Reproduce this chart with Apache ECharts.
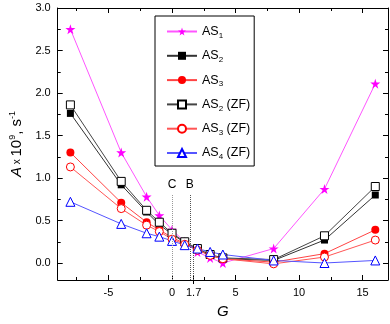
<!DOCTYPE html>
<html>
<head>
<meta charset="utf-8">
<script src="https://cdn.jsdelivr.net/npm/echarts@6/dist/echarts.min.js"></script>
<style>
    html, body {margin: 0; padding: 0; background: #fff;}
    #main {width: 390px; height: 324px;}
</style>
</head>
<body>
<div id="main"></div>
<script>
// G 值（横轴）
var gValues = [-8, -4, -2, -1, 0, 1, 2, 3, 4, 8, 12, 16];
// 各序列的 A 值 (x10^9 s^-1)
var as1 = [2.75, 1.30, 0.78, 0.56, 0.39, 0.25, 0.13, 0.06, 0.00, 0.17, 0.87, 2.11];
var as2 = [1.76, 0.92, 0.60, 0.45, 0.34, 0.24, 0.16, 0.09, 0.05, 0.03, 0.27, 0.80];
var as3 = [1.30, 0.71, 0.48, 0.39, 0.30, 0.23, 0.16, 0.09, 0.05, 0.01, 0.11, 0.39];
var as2zf = [1.86, 0.96, 0.62, 0.48, 0.35, 0.25, 0.17, 0.10, 0.06, 0.04, 0.32, 0.90];
var as3zf = [1.13, 0.64, 0.445, 0.37, 0.28, 0.22, 0.15, 0.09, 0.05, -0.01, 0.07, 0.27];
var as4zf = [0.72, 0.46, 0.35, 0.31, 0.26, 0.21, 0.17, 0.13, 0.10, 0.03, 0.00, 0.03];
var seriesNames = ['AS1', 'AS2', 'AS3', 'AS2 (ZF)', 'AS3 (ZF)', 'AS4 (ZF)'];

// 刻度
var xMajorTicks = [-5, 0, 1.7, 5, 10, 15];
var xMinorTicks = [-7.5, -2.5, 2.5, 7.5, 12.5];
var yMajorTicks = [0, 0.5, 1, 1.5, 2, 2.5, 3];
var yMinorTicks = [0.25, 0.75, 1.25, 1.75, 2.25, 2.75];

// 参考线 C / B
var guideLines = [
    {label: 'C', x: 0, from: -0.2, to: 0.81, color: '#999'},
    {label: 'B', x: 1.4, from: -0.2, to: 0.81, color: '#555'},
    {label: '', x: 1.7, from: -0.2, to: 0.12, color: '#555'}
];

var xMin = -9, xMax = 17, yMin = -0.2, yMax = 3.0;
var starPath = 'path://M50,0 L61,35 L98,35 L68,57 L79,91 L50,70 L21,91 L32,57 L2,35 L39,35 Z';
var font = 'Liberation Sans, Arial, sans-serif';

function pairs(ys) {
    var out = [];
    for (var i = 0; i < gValues.length; i++) {
        out.push([gValues[i], ys[i]]);
    }
    return out;
}

function xAxisDef(pos, ticks, len, showLabel, showLine, inside) {
    return {
        type: 'value', position: pos, min: xMin, max: xMax,
        splitLine: {show: false},
        axisLine: {show: showLine, onZero: false, lineStyle: {color: '#000', width: 1}},
        axisTick: {show: true, inside: inside, length: len, customValues: ticks, lineStyle: {color: '#000'}},
        axisLabel: {show: showLabel, customValues: ticks, color: '#000', fontSize: 11, fontFamily: font, margin: 7,
            formatter: function (v) { return v < 0 ? '-' + Math.abs(v) : String(v); }}
    };
}

function yAxisDef(pos, ticks, len, showLabel, showLine) {
    return {
        type: 'value', position: pos, min: yMin, max: yMax,
        splitLine: {show: false},
        axisLine: {show: showLine, onZero: false, lineStyle: {color: '#000', width: 1}},
        axisTick: {show: true, inside: true, length: len, customValues: ticks, lineStyle: {color: '#000'}},
        axisLabel: {show: showLabel, customValues: ticks, color: '#000', fontSize: 11, fontFamily: font, margin: 7,
            formatter: function (v) { return v.toFixed(1); }}
    };
}

var xAxes = [
    xAxisDef('bottom', xMajorTicks, 5, true, true, true),
    xAxisDef('bottom', xMinorTicks, 3, false, false, true),
    xAxisDef('top', [-5, 0, 5, 10, 15], 5, false, true, true),
    xAxisDef('top', xMinorTicks, 3, false, false, true),
    xAxisDef('bottom', [1.7], 4, false, false, false)
];
xAxes[0].name = 'G';
xAxes[0].nameLocation = 'middle';
xAxes[0].nameGap = 24;
xAxes[0].nameTextStyle = {fontSize: 15, fontStyle: 'italic', fontFamily: font, color: '#000'};

var yAxes = [
    yAxisDef('left', yMajorTicks, 5, true, true),
    yAxisDef('left', yMinorTicks, 3, false, false),
    yAxisDef('right', yMajorTicks, 5, false, true),
    yAxisDef('right', yMinorTicks, 3, false, false)
];
yAxes[0].name = '{i|A}{x| x }{n|10}{sup|9}{n|, s}{sup|-1}';
yAxes[0].nameLocation = 'middle';
yAxes[0].nameGap = 29;
yAxes[0].nameTextStyle = {
    color: '#000', fontFamily: font,
    rich: {
        i: {fontSize: 15, fontStyle: 'italic', fontFamily: font, color: '#000'},
        x: {fontSize: 10, fontFamily: font, color: '#000'},
        n: {fontSize: 15, fontFamily: font, color: '#000'},
        sup: {fontSize: 9, fontFamily: font, color: '#000', verticalAlign: 'top', padding: [0, 0, 9, 0]}
    }
};

function dataSeries(name, ys, color, symbol, size, hollow, lineColor) {
    return {
        name: name, type: 'line', data: pairs(ys),
        xAxisIndex: 0, yAxisIndex: 0,
        symbol: symbol, symbolSize: size,
        lineStyle: {color: lineColor, width: 1},
        itemStyle: hollow ? {color: '#fff', borderColor: color, borderWidth: 1} : {color: color, borderColor: color, borderWidth: 0},
        color: color,
        z: 3
    };
}

var series = [];
for (var k = 0; k < guideLines.length; k++) {
    var gl = guideLines[k];
    series.push({
        type: 'line', data: [], silent: true, z: 1,
        markLine: {
            silent: true, symbol: ['none', 'none'], animation: false,
            lineStyle: {type: 'dotted', color: gl.color, width: 1},
            label: {show: gl.label !== '', position: 'end', formatter: gl.label, color: '#000', fontSize: 12, fontFamily: font, distance: 3},
            data: [[{coord: [gl.x, gl.from]}, {coord: [gl.x, gl.to]}]]
        }
    });
}
series.push(dataSeries(seriesNames[0], as1, '#ff00ff', starPath, 10, false, '#ff55ff'));
series.push(dataSeries(seriesNames[1], as2, '#000', 'rect', 7, false, '#333'));
series.push(dataSeries(seriesNames[2], as3, '#ff0000', 'circle', 8, false, '#ff4444'));
series.push(dataSeries(seriesNames[3], as2zf, '#000', 'rect', 8, true, '#444'));
series.push(dataSeries(seriesNames[4], as3zf, '#ff0000', 'circle', 8, true, '#ff5555'));
series.push(dataSeries(seriesNames[5], as4zf, '#0000ff', 'triangle', 9, true, '#5555ff'));

var myChart = echarts.init(document.getElementById('main'));
var option = {
    animation: false,
    backgroundColor: '#fff',
    grid: {left: 46, top: 8, width: 342, height: 276, containLabel: false},
    legend: {
        data: seriesNames,
        orient: 'vertical',
        left: 155, top: 16,
        padding: [9, 4, 5, 11],
        itemWidth: 30, itemHeight: 10, itemGap: 9.8,
        borderColor: '#000', borderWidth: 1, borderRadius: 0,
        backgroundColor: '#fff',
        formatter: function (name) {
            return name.replace(/AS(\d)/, 'AS{s|$1}');
        },
        textStyle: {
            fontSize: 12.5, fontFamily: font, color: '#000',
            rich: {s: {fontSize: 8, fontFamily: font, color: '#000', verticalAlign: 'bottom', padding: [8, 0, 0, 0]}}
        }
    },
    xAxis: xAxes,
    yAxis: yAxes,
    series: series
};
myChart.setOption(option);
</script>
</body>
</html>
